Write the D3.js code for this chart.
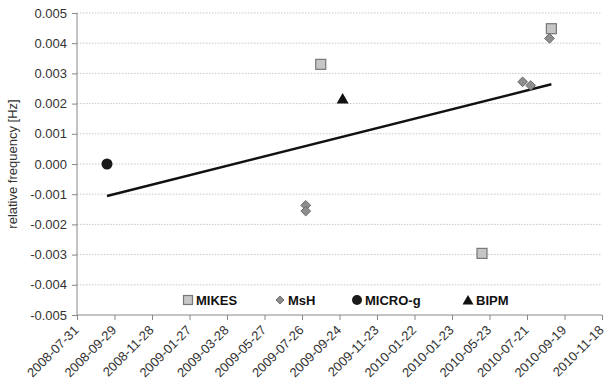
<!DOCTYPE html>
<html>
<head>
<meta charset="utf-8">
<script src="https://cdn.jsdelivr.net/npm/d3@7"></script>
<style>
body { margin:0; background:#fff; }
text { font-family:"Liberation Sans", Arial, sans-serif; }
</style>
</head>
<body>
<svg id="chart"></svg>
<script>
// tick dates and the labels as printed on the chart
var tickDates = ["2008-07-31","2008-09-29","2008-11-28","2009-01-27","2009-03-28","2009-05-27","2009-07-26",
                 "2009-09-24","2009-11-23","2010-01-22","2010-03-23","2010-05-22","2010-07-21","2010-09-19","2010-11-18"]
var tickLabels = ["2008-07-31","2008-09-29","2008-11-28","2009-01-27","2009-03-28","2009-05-27","2009-07-26",
                  "2009-09-24","2009-11-23","2010-01-22","2010-01-23","2010-05-23","2010-07-21","2010-09-19","2010-11-18"]
var yTicks = [0.005,0.004,0.003,0.002,0.001,0,-0.001,-0.002,-0.003,-0.004,-0.005]

var mikes = [["2009-08-25",0.0033],["2010-05-10",-0.00296],["2010-08-29",0.00448]]
var msh = [["2009-08-01",-0.00137],["2009-08-01",-0.00156],["2010-07-14",0.00272],["2010-07-27",0.00260],["2010-08-26",0.00416]]
var microg = [["2008-09-17",0.0]]
var bipm = [["2009-09-29",0.00217]]
var trend = [["2008-09-17",-0.00106],["2010-08-29",0.00264]]

var legendNames = ["MIKES","MsH","MICRO-g","BIPM"]

var screen = {width:608,height:386}
var margins = {left:77,right:6,top:13,bottom:71}
var graph = {width:screen.width-margins.left-margins.right, height:screen.height-margins.top-margins.bottom}

var parse = d3.utcParse("%Y-%m-%d")

var svg = d3.select("#chart").attr("width",screen.width).attr("height",screen.height)

var xScale = d3.scaleUtc()
    .domain([parse(tickDates[0]),parse(tickDates[tickDates.length-1])])
    .range([0,graph.width])
var yScale = d3.scaleLinear()
    .domain([-0.005,0.005])
    .range([graph.height,0])

var target = svg.append("g")
    .attr("transform","translate("+margins.left+","+margins.top+")")

// grid
target.append("g").selectAll("line")
    .data(yTicks.filter(function(d){return d!=-0.005}))
    .enter().append("line")
    .attr("x1",0).attr("x2",graph.width)
    .attr("y1",function(d){return yScale(d)}).attr("y2",function(d){return yScale(d)})
    .attr("stroke","#c8c8c8").attr("stroke-dasharray","1.5,1.5").attr("stroke-width",1)

// y axis
var yAxis = d3.axisLeft(yScale).tickValues(yTicks).tickSize(5).tickPadding(5)
    .tickFormat(d3.format(".3f"))
var gy = target.append("g").call(yAxis)
gy.select(".domain").attr("stroke","#888").attr("d","M0,0V"+graph.height)
gy.selectAll(".tick line").attr("stroke","#888")
gy.selectAll("text").attr("font-size",13).attr("fill","#333")
    .text(function(d){return d3.format(".3f")(d).replace("−","-")})

// x axis
var xAxis = d3.axisBottom(xScale)
    .tickValues(tickDates.map(parse))
    .tickSize(5)
    .tickFormat(function(d,i){return tickLabels[i]})
var gx = target.append("g").attr("transform","translate(0,"+graph.height+")").call(xAxis)
gx.select(".domain").attr("stroke","#888").attr("d","M0,0H"+graph.width)
gx.selectAll(".tick line").attr("stroke","#888")
gx.selectAll("text")
    .attr("font-size",13).attr("fill","#333")
    .attr("text-anchor","end")
    .attr("dy",null).attr("y",null)
    .attr("transform","translate(2,16) rotate(-45)")

// trend line
target.append("path")
    .datum(trend)
    .attr("d",d3.line().x(function(d){return xScale(parse(d[0]))}).y(function(d){return yScale(d[1])}))
    .attr("fill","none").attr("stroke","#111").attr("stroke-width",2.5)

var triPath = "M0,-5.5L6,5L-6,5Z"
var diamond = d3.symbol().type(d3.symbolDiamond2).size(60)()

// markers
target.append("g").selectAll("path")
    .data(mikes).enter().append("rect")
    .attr("x",function(d){return xScale(parse(d[0]))-5})
    .attr("y",function(d){return yScale(d[1])-5})
    .attr("width",10).attr("height",10)
    .attr("fill","#c6c6c6").attr("stroke","#777").attr("stroke-width",1.2)

target.append("g").selectAll("path")
    .data(msh).enter().append("path")
    .attr("d",diamond)
    .attr("transform",function(d){return "translate("+xScale(parse(d[0]))+","+yScale(d[1])+")"})
    .attr("fill","#8e8e8e").attr("stroke","#6a6a6a").attr("stroke-width",1)

target.append("g").selectAll("circle")
    .data(microg).enter().append("circle")
    .attr("cx",function(d){return xScale(parse(d[0]))})
    .attr("cy",function(d){return yScale(d[1])})
    .attr("r",5.5).attr("fill","#1a1a1a")

target.append("g").selectAll("path")
    .data(bipm).enter().append("path")
    .attr("d",triPath)
    .attr("transform",function(d){return "translate("+xScale(parse(d[0]))+","+yScale(d[1])+")"})
    .attr("fill","#111")

// legend
var legendX = [188,280,357,468]
var legend = svg.append("g").attr("transform","translate(0,300)")
var entries = legend.selectAll("g").data(legendNames).enter().append("g")
    .attr("transform",function(d,i){return "translate("+legendX[i]+",0)"})
entries.append("text")
    .text(function(d){return d})
    .attr("x",8)
    .attr("y",5)
    .attr("font-size",13).attr("font-weight","bold").attr("fill","#111")
entries.each(function(d,i){
    var g = d3.select(this)
    if(i==0) g.append("rect").attr("x",-4.5).attr("y",-4.5).attr("width",9).attr("height",9)
        .attr("fill","#c6c6c6").attr("stroke","#777").attr("stroke-width",1.2)
    if(i==1) g.append("path").attr("d",d3.symbol().type(d3.symbolDiamond2).size(40)())
        .attr("fill","#8e8e8e").attr("stroke","#6a6a6a")
    if(i==2) g.append("circle").attr("r",5).attr("fill","#1a1a1a")
    if(i==3) g.append("path").attr("d","M0,-5L5.5,4.5L-5.5,4.5Z").attr("fill","#111")
})

// axis title
svg.append("text")
    .text("relative frequency [Hz]")
    .attr("text-anchor","middle")
    .attr("font-size",13).attr("fill","#333")
    .attr("transform","translate(17,"+(margins.top+graph.height/2)+") rotate(-90)")
</script>
</body>
</html>
